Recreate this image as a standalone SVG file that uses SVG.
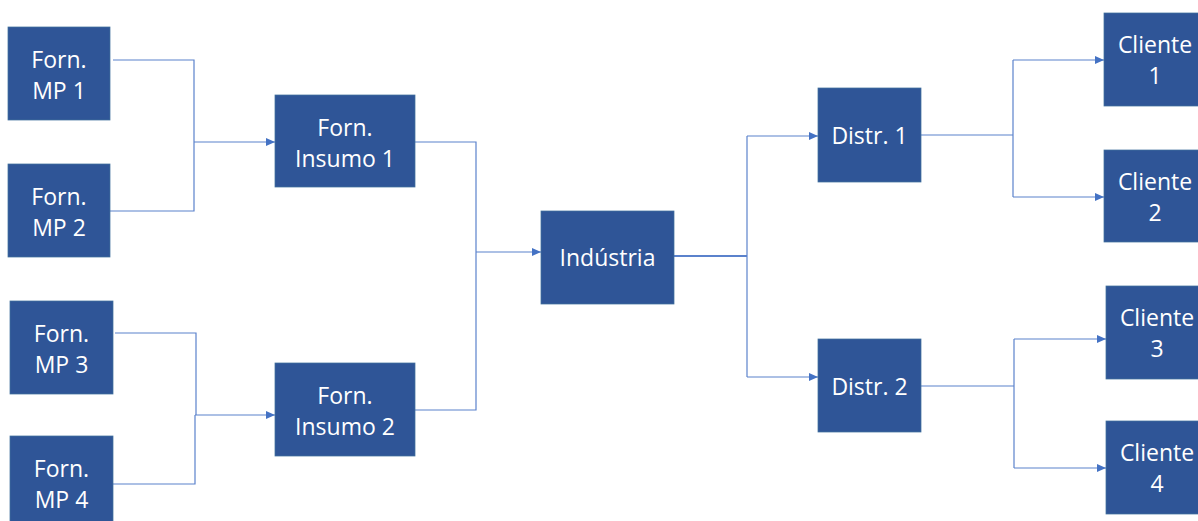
<svg xmlns="http://www.w3.org/2000/svg" width="1198" height="521" viewBox="0 0 1198 521">
<defs>
<marker id="arr" markerUnits="userSpaceOnUse" markerWidth="9" markerHeight="8" refX="9" refY="4" orient="auto">
<path d="M0,0 L9,4 L0,8 z" fill="#4472C4"/>
</marker>
<style>
.box{fill:#2F5597;stroke:#41719C;stroke-width:0.75}
.t{font-family:"Open Sans","Noto Sans",sans-serif;font-size:23px;fill:#FFFFFF;text-anchor:middle}
.c{fill:none;stroke:#5B82CC;stroke-width:1.2}
.a{fill:none;stroke:#5B82CC;stroke-width:1.2;marker-end:url(#arr)}
</style>
</defs>
<rect width="1198" height="521" fill="#FFFFFF"/>
<g id="connectors">
<path class="c" d="M113,60 H194 V211 H110"/>
<path class="a" d="M194,142 H275"/>
<path class="c" d="M115,333 H196 V415"/>
<path class="c" d="M113,484 H195 V415"/>
<path class="a" d="M195,415 H275"/>
<path class="c" d="M415,142 H476 V410 H415"/>
<path class="a" d="M476,252 H541"/>
<path class="c" d="M674,256 H747" style="stroke-width:2"/>
<path class="c" d="M747,136 V377"/>
<path class="a" d="M747,136 H818"/>
<path class="a" d="M747,377 H818"/>
<path class="c" d="M921,135 H1013"/>
<path class="c" d="M1013,60 V197"/>
<path class="a" d="M1013,60 H1104"/>
<path class="a" d="M1013,197 H1104"/>
<path class="c" d="M921,386 H1014"/>
<path class="c" d="M1014,339 V468"/>
<path class="a" d="M1014,339 H1106"/>
<path class="a" d="M1014,468 H1106"/>
</g>
<g id="mp1"><rect class="box" x="8" y="27" width="102" height="93"/><text class="t" x="59" y="67.5">Forn.</text><text class="t" x="59" y="99">MP 1</text></g>
<g id="mp2"><rect class="box" x="8" y="164" width="102" height="93"/><text class="t" x="59" y="204.5">Forn.</text><text class="t" x="59" y="236">MP 2</text></g>
<g id="mp3"><rect class="box" x="10" y="301" width="103" height="93"/><text class="t" x="61.5" y="341.5">Forn.</text><text class="t" x="61.5" y="373">MP 3</text></g>
<g id="mp4"><rect class="box" x="10" y="436" width="103" height="93"/><text class="t" x="61.5" y="476.5">Forn.</text><text class="t" x="61.5" y="508">MP 4</text></g>
<g id="insumo1"><rect class="box" x="275" y="95" width="140" height="92"/><text class="t" x="345" y="135.5">Forn.</text><text class="t" x="345" y="167">Insumo 1</text></g>
<g id="insumo2"><rect class="box" x="275" y="363" width="140" height="93"/><text class="t" x="345" y="403.5">Forn.</text><text class="t" x="345" y="435">Insumo 2</text></g>
<g id="industria"><rect class="box" x="541" y="211" width="133" height="93"/><text class="t" x="607.5" y="266">Indústria</text></g>
<g id="distr1"><rect class="box" x="818" y="88" width="103" height="94"/><text class="t" x="869.5" y="144">Distr. 1</text></g>
<g id="distr2"><rect class="box" x="818" y="339" width="103" height="93"/><text class="t" x="869.5" y="395">Distr. 2</text></g>
<g id="cliente1"><rect class="box" x="1104" y="13" width="102" height="93"/><text class="t" x="1155" y="52.5">Cliente</text><text class="t" x="1155" y="84">1</text></g>
<g id="cliente2"><rect class="box" x="1104" y="150" width="102" height="92"/><text class="t" x="1155" y="189.5">Cliente</text><text class="t" x="1155" y="221">2</text></g>
<g id="cliente3"><rect class="box" x="1106" y="286" width="102" height="93"/><text class="t" x="1157" y="325.5">Cliente</text><text class="t" x="1157" y="357">3</text></g>
<g id="cliente4"><rect class="box" x="1106" y="421" width="102" height="93"/><text class="t" x="1157" y="460.5">Cliente</text><text class="t" x="1157" y="492">4</text></g>
</svg>
